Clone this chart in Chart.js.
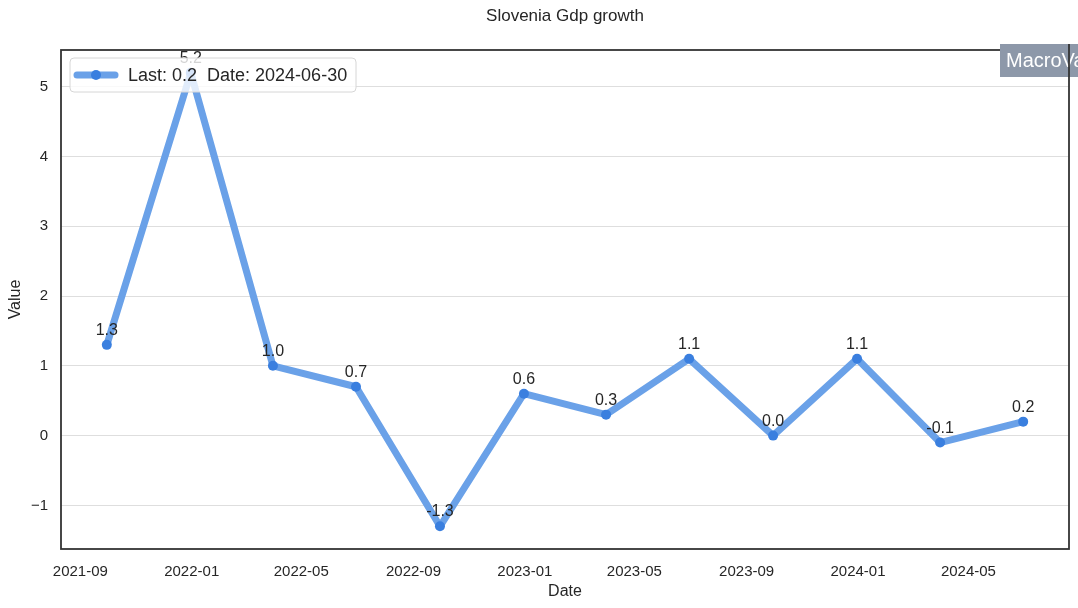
<!DOCTYPE html>
<html>
<head>
<meta charset="utf-8">
<script src="https://cdn.jsdelivr.net/npm/chart.js@4/dist/chart.umd.min.js"></script>
<style>
  html, body { margin: 0; padding: 0; background: #fff; }
  #wrap { width: 1078px; height: 608px; position: relative; }
</style>
</head>
<body>
<div id="wrap"><canvas id="gdpChart"></canvas></div>
<script>
// data
const dates = ['2021-09-30', '2021-12-31', '2022-03-31', '2022-06-30', '2022-09-30', '2022-12-31',
               '2023-03-31', '2023-06-30', '2023-09-30', '2023-12-31', '2024-03-31', '2024-06-30'];
const values = [1.3, 5.2, 1.0, 0.7, -1.3, 0.6, 0.3, 1.1, 0.0, 1.1, -0.1, 0.2];
const xTickLabels = ['2021-09', '2022-01', '2022-05', '2022-09', '2023-01', '2023-05', '2023-09', '2024-01', '2024-05'];
const yTickValues = [-1, 0, 1, 2, 3, 4, 5];

const FONT = '"Liberation Sans", Arial, sans-serif';
const TEXT = '#262626';
const LINE_COLOR = '#6aa1e8';
const POINT_COLOR = '#3a7fdf';

const toTime = s => Date.parse(s + 'T00:00:00Z');

const points = dates.map((d, i) => ({ x: toTime(d), y: values[i] }));

// matplotlib style 5% margins
const xMin0 = points[0].x, xMax0 = points[points.length - 1].x;
const xPad = (xMax0 - xMin0) * 0.05;
const yMin0 = Math.min(...values), yMax0 = Math.max(...values);
const yPad = (yMax0 - yMin0) * 0.05;

// ========================
// custom drawing: title, frame, labels, legend, watermark
// ========================
const decorPlugin = {
    id: 'decor',
    afterDatasetsDraw(chart) {
        const ctx = chart.ctx;
        const meta = chart.getDatasetMeta(0);
        ctx.save();
        ctx.font = '16px ' + FONT;
        ctx.fillStyle = TEXT;
        ctx.textAlign = 'center';
        ctx.textBaseline = 'alphabetic';
        meta.data.forEach((pt, i) => {
            ctx.fillText(values[i].toFixed(1), pt.x, pt.y - 10);
        });
        ctx.restore();
    },
    afterDraw(chart) {
        const ctx = chart.ctx;
        const a = chart.chartArea;
        ctx.save();

        // title
        ctx.font = '17px ' + FONT;
        ctx.fillStyle = TEXT;
        ctx.textAlign = 'center';
        ctx.textBaseline = 'middle';
        ctx.fillText('Slovenia Gdp growth', (a.left + a.right) / 2, 16);

        // frame
        ctx.strokeStyle = '#333333';
        ctx.lineWidth = 1.8;
        ctx.strokeRect(a.left, a.top, a.right - a.left, a.bottom - a.top);

        // watermark
        ctx.fillStyle = '#8d98a9';
        ctx.fillRect(1000, 44, 90, 33);
        ctx.fillStyle = '#ffffff';
        ctx.font = '20px ' + FONT;
        ctx.textAlign = 'left';
        ctx.fillText('MacroVar', 1006, 61);
        ctx.strokeStyle = '#333333';
        ctx.beginPath();
        ctx.moveTo(a.right, 44);
        ctx.lineTo(a.right, 77);
        ctx.stroke();

        // legend box
        const lx = 70, ly = 58, lw = 286, lh = 34;
        ctx.beginPath();
        ctx.roundRect(lx, ly, lw, lh, 4);
        ctx.fillStyle = 'rgba(255,255,255,0.8)';
        ctx.fill();
        ctx.strokeStyle = '#d6d6d6';
        ctx.lineWidth = 1;
        ctx.stroke();
        ctx.beginPath();
        ctx.moveTo(77, 75);
        ctx.lineTo(115, 75);
        ctx.strokeStyle = LINE_COLOR;
        ctx.lineWidth = 7;
        ctx.lineCap = 'round';
        ctx.stroke();
        ctx.beginPath();
        ctx.arc(96, 75, 5, 0, Math.PI * 2);
        ctx.fillStyle = POINT_COLOR;
        ctx.fill();
        ctx.fillStyle = TEXT;
        ctx.font = '18px ' + FONT;
        ctx.textAlign = 'left';
        ctx.textBaseline = 'middle';
        const last = values[values.length - 1].toFixed(1);
        ctx.fillText('Last: ' + last + '  Date: ' + dates[dates.length - 1], 128, 76);

        ctx.restore();
    }
};

function minusSign(v) {
    return v < 0 ? '\u2212' + Math.abs(v) : String(v);
}

new Chart(document.getElementById('gdpChart'), {
    type: 'line',
    data: {
        datasets: [{
            label: 'Gdp growth',
            data: points,
            borderColor: LINE_COLOR,
            borderWidth: 7,
            pointRadius: 5,
            pointBackgroundColor: POINT_COLOR,
            pointBorderWidth: 0,
            tension: 0,
            borderJoinStyle: 'round',
            borderCapStyle: 'round'
        }]
    },
    options: {
        responsive: true,
        maintainAspectRatio: false,
        animation: false,
        layout: { padding: { top: 50, right: 9, left: 0, bottom: 0 } },
        plugins: {
            legend: { display: false },
            title: { display: false },
            tooltip: { enabled: false }
        },
        scales: {
            x: {
                type: 'linear',
                min: xMin0 - xPad,
                max: xMax0 + xPad,
                grid: { display: false },
                border: { display: false },
                afterBuildTicks: scale => {
                    scale.ticks = xTickLabels.map(l => ({ value: toTime(l + '-01') }));
                },
                afterFit: scale => { scale.height = 59; },
                ticks: {
                    autoSkip: false,
                    maxRotation: 0,
                    padding: 6,
                    color: TEXT,
                    font: { family: FONT, size: 15 },
                    callback: (v, i) => xTickLabels[i]
                },
                title: {
                    display: true,
                    text: 'Date',
                    color: TEXT,
                    font: { family: FONT, size: 16 },
                    padding: { top: 0, bottom: 7 }
                }
            },
            y: {
                min: yMin0 - yPad,
                max: yMax0 + yPad,
                afterBuildTicks: scale => {
                    scale.ticks = yTickValues.map(v => ({ value: v }));
                },
                afterFit: scale => { scale.width = 61; },
                grid: { color: '#dedede', lineWidth: 1, drawTicks: false },
                border: { display: false },
                ticks: {
                    padding: 13,
                    color: TEXT,
                    font: { family: FONT, size: 15 },
                    callback: v => minusSign(v)
                },
                title: {
                    display: true,
                    text: 'Value',
                    color: TEXT,
                    font: { family: FONT, size: 16 },
                    padding: { top: 6, bottom: 0 }
                }
            }
        }
    },
    plugins: [decorPlugin]
});
</script>
</body>
</html>
